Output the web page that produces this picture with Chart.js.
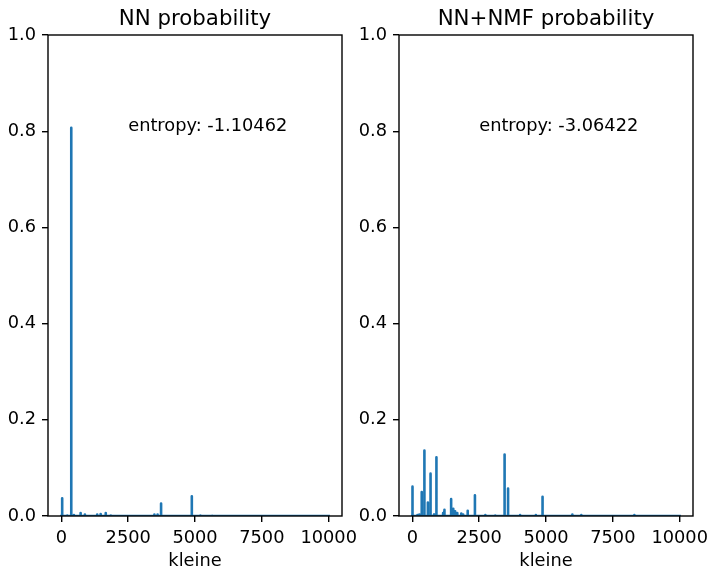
<!DOCTYPE html>
<html>
<head>
<meta charset="utf-8">
<script src="https://cdn.jsdelivr.net/npm/chart.js@4/dist/chart.umd.min.js"></script>
<style>
  html, body { margin: 0; padding: 0; background: #ffffff; }
  #wrap { position: relative; width: 711px; height: 569px; overflow: hidden; background: #fff; }
  canvas { position: absolute; top: 0; }
</style>
</head>
<body>
<div id="wrap">
  <canvas id="c1" width="370" height="569" style="left:0px;width:370px;height:569px"></canvas>
  <canvas id="c2" width="360" height="569" style="left:351px;width:360px;height:569px"></canvas>
</div>
<script>
// ---- data ----
const titles = ["NN probability", "NN+NMF probability"];
const entropyLabels = ["entropy: -1.10462", "entropy: -3.06422"];
const xAxisLabel = "kleine";
const xTicks = [0, 2500, 5000, 7500, 10000];
const yTicks = [0.0, 0.2, 0.4, 0.6, 0.8, 1.0];
const nIndex = 10000;

// NN probability: spike positions (index) and heights
const nnX = [30, 220, 370, 470, 720, 880, 1340, 1470, 1660, 1850, 3480, 3600, 3730, 4880, 5200, 5640];
const nnY = [0.037, 0.001, 0.807, 0.002, 0.006, 0.003, 0.003, 0.004, 0.006, 0.001, 0.003, 0.003, 0.026, 0.041, 0.001, 0.0005];

// NN+NMF probability: spike positions (index) and heights
const nmfX = [5, 190, 260, 350, 450, 580, 680, 810, 900, 1150, 1200, 1450, 1530, 1600, 1680, 1830, 1900, 2070, 2340, 2730, 3100, 3450, 3580, 4030, 4620, 4870, 5985, 6320, 8305];
const nmfY = [0.061, 0.002, 0.003, 0.050, 0.136, 0.028, 0.088, 0.003, 0.122, 0.006, 0.013, 0.035, 0.015, 0.010, 0.006, 0.005, 0.003, 0.011, 0.043, 0.002, 0.001, 0.128, 0.057, 0.002, 0.002, 0.040, 0.003, 0.002, 0.002];

// the probability vectors are zero everywhere except at the listed indices
function buildSeries(xs, ys) {
  const pts = [{x: 0, y: 0}];
  xs.forEach((x, i) => {
    pts.push({x: x - 1, y: 0});
    pts.push({x: x, y: ys[i]});
    pts.push({x: x + 1, y: 0});
  });
  pts.push({x: nIndex - 1, y: 0});
  return pts;
}

const FONT = "'DejaVu Sans', 'Liberation Sans', sans-serif";
const TICK_SIZE = 17.8;
const TITLE_SIZE = 21.3;

const overlay = {
  id: 'overlay',
  afterDraw(chart, args, opts) {
    const {ctx, chartArea: a, scales} = chart;
    ctx.save();
    // frame (spines)
    ctx.strokeStyle = '#000';
    ctx.lineWidth = 1.4;
    ctx.strokeRect(a.left, a.top, a.right - a.left, a.bottom - a.top);
    // title
    ctx.fillStyle = '#000';
    ctx.font = TITLE_SIZE + 'px ' + FONT;
    ctx.textAlign = 'center';
    ctx.textBaseline = 'alphabetic';
    ctx.fillText(opts.title, (a.left + a.right) / 2, a.top - 10);
    // entropy annotation at data (2500, 0.8)
    ctx.font = TICK_SIZE + 'px ' + FONT;
    ctx.textAlign = 'left';
    ctx.fillText(opts.note, scales.x.getPixelForValue(2500), scales.y.getPixelForValue(0.8));
    ctx.restore();
  }
};

function makeChart(id, xs, ys, title, note, padRight) {
  return new Chart(document.getElementById(id), {
    type: 'line',
    data: {
      datasets: [{
        data: buildSeries(xs, ys),
        borderColor: '#1f77b4',
        borderWidth: 2.6,
        borderCapStyle: 'square',
        borderJoinStyle: 'round',
        pointRadius: 0,
        tension: 0,
        fill: false
      }]
    },
    options: {
      responsive: false,
      animation: false,
      events: [],
      layout: { padding: { left: 0, right: padRight, top: 35, bottom: 0 } },
      plugins: {
        legend: { display: false },
        tooltip: { enabled: false },
        overlay: { title: title, note: note }
      },
      scales: {
        x: {
          type: 'linear',
          min: -499.95,
          max: 10498.95,
          afterBuildTicks: s => { s.ticks = xTicks.map(v => ({value: v})); },
          afterFit: s => { s.height = 53; s.paddingLeft = 0; s.paddingRight = 0; },
          border: { display: false },
          grid: { drawOnChartArea: false, drawTicks: true, tickLength: 6, color: '#000', lineWidth: 1.4 },
          ticks: {
            color: '#000', padding: 6, maxRotation: 0, autoSkip: false,
            font: { family: FONT, size: TICK_SIZE },
            callback: v => String(v)
          },
          title: {
            display: true, text: xAxisLabel, color: '#000',
            font: { family: FONT, size: TICK_SIZE },
            padding: { top: 2, bottom: -3 }
          }
        },
        y: {
          type: 'linear',
          min: 0,
          max: 1,
          afterBuildTicks: s => { s.ticks = yTicks.map(v => ({value: v})); },
          afterFit: s => { s.width = 48; s.paddingTop = 0; s.paddingBottom = 0; },
          border: { display: false },
          grid: { drawOnChartArea: false, drawTicks: true, tickLength: 6, color: '#000', lineWidth: 1.4 },
          ticks: {
            color: '#000', padding: 6,
            font: { family: FONT, size: TICK_SIZE },
            callback: v => v.toFixed(1)
          }
        }
      }
    },
    plugins: [overlay]
  });
}

makeChart('c1', nnX, nnY, titles[0], entropyLabels[0], 28);
makeChart('c2', nmfX, nmfY, titles[1], entropyLabels[1], 18);
</script>
</body>
</html>
